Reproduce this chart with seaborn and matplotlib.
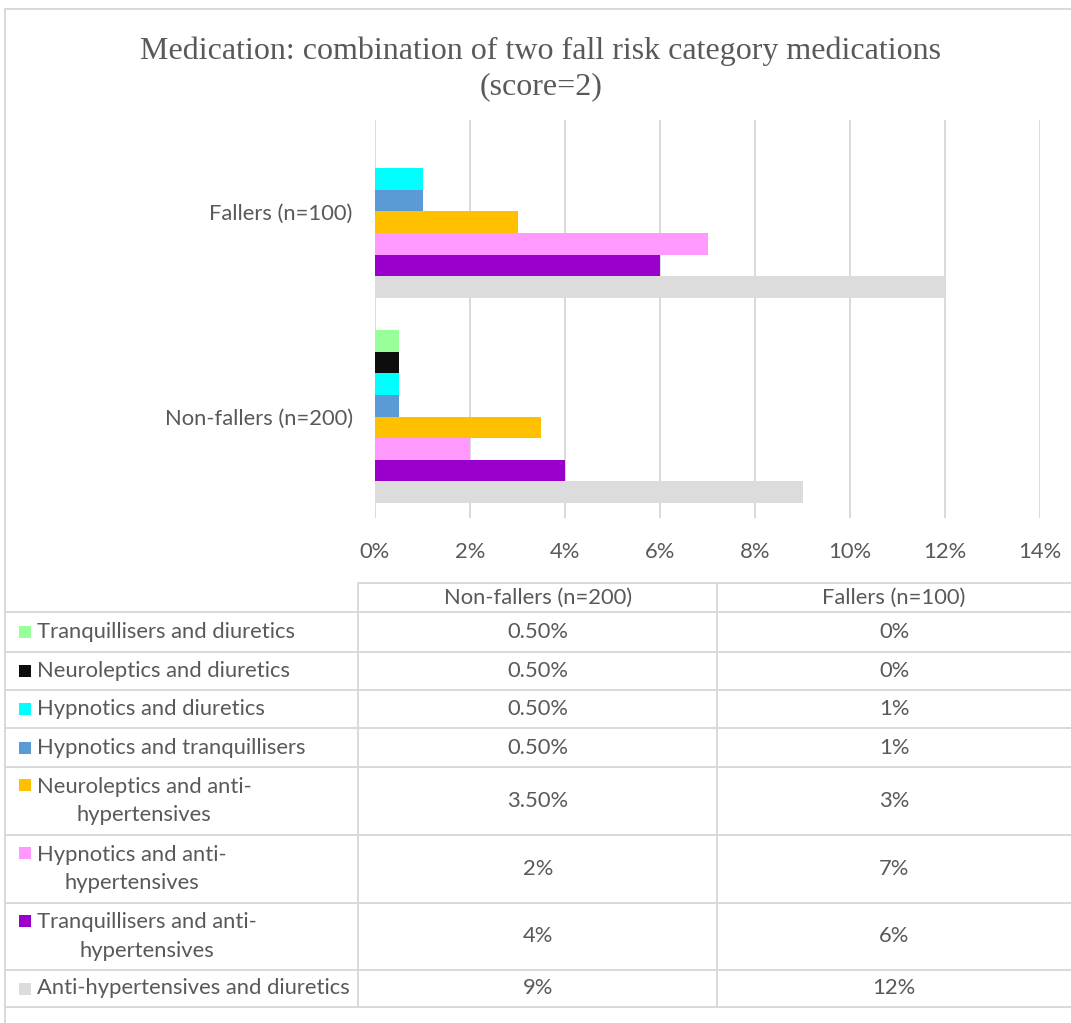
import matplotlib
matplotlib.use("Agg")
import matplotlib.pyplot as plt
from matplotlib.lines import Line2D
from matplotlib.patches import Rectangle
import seaborn as sns
import pandas as pd

# ---- data ----
groups = ["Fallers (n=100)", "Non-fallers (n=200)"]
series = [
    "Tranquillisers and diuretics",
    "Neuroleptics and diuretics",
    "Hypnotics and diuretics",
    "Hypnotics and tranquillisers",
    "Neuroleptics and anti-\nhypertensives",
    "Hypnotics and anti-\nhypertensives",
    "Tranquillisers and anti-\nhypertensives",
    "Anti-hypertensives and diuretics",
]
nonfallers = [0.5, 0.5, 0.5, 0.5, 3.5, 2, 4, 9]
fallers = [0, 0, 1, 1, 3, 7, 6, 12]
colors = ["#99FF99", "#0D0D0D", "#00FFFF", "#5B9BD5",
          "#FFC000", "#FF99FF", "#9900CC", "#DCDCDC"]
xticks = [0, 2, 4, 6, 8, 10, 12, 14]
title = "Medication: combination of two fall risk category medications\n(score=2)"
table_header = ["Non-fallers (n=200)", "Fallers (n=100)"]

rows = []
for s, nf, f in zip(series, nonfallers, fallers):
    rows.append({"group": groups[0], "series": s, "value": f})
    rows.append({"group": groups[1], "series": s, "value": nf})
df = pd.DataFrame(rows)

W, H = 1071, 1023
sns.set_theme(style="white")
plt.rcParams["font.family"] = ["Lato", "DejaVu Sans"]
TXT = "#595959"
GRID = "#D9D9D9"
FS = 15.8

fig = plt.figure(figsize=(W / 100, H / 100), dpi=100)
fig.patch.set_facecolor("white")

def fx(x):
    return x / W

def fy(y):
    return 1 - y / H

ax = fig.add_axes([fx(375), fy(518), fx(1040) - fx(375), fy(120) - fy(518)])
sns.barplot(data=df, x="value", y="group", hue="series", order=groups,
            hue_order=series, palette=colors, orient="h", width=0.843,
            saturation=1, errorbar=None, legend=False, linewidth=0, ax=ax)
ax.set_xlim(0, 14)
ax.set_ylim(1.495, -0.446)
ax.set_xticks(xticks)
ax.set_xticklabels([f"{t}%" for t in xticks])
ax.set_xlabel("")
ax.set_ylabel("")
ax.xaxis.grid(True, color=GRID, lw=1.4)
ax.yaxis.grid(False)
ax.set_axisbelow(True)
for sp in ax.spines.values():
    sp.set_visible(False)
ax.tick_params(axis="x", length=0, pad=17, labelsize=FS, colors=TXT)
ax.tick_params(axis="y", length=0, pad=16, labelsize=FS, colors=TXT)

# title
fig.text(fx(541), fy(69), title, ha="center", va="center", fontsize=23,
         family=["Liberation Serif"], color=TXT, linespacing=1.3)

def hline(y, x0, x1, lw=1.4):
    fig.add_artist(Line2D([fx(x0), fx(x1)], [fy(y), fy(y)], color=GRID, lw=lw))

def vline(x, y0, y1, lw=1.4):
    fig.add_artist(Line2D([fx(x), fx(x)], [fy(y0), fy(y1)], color=GRID, lw=lw))

# outer chart border
hline(9, 5, W)
vline(5, 9, H)

# data table
row_edges = [612, 652, 690, 728, 767, 835, 903, 970, 1007]
hline(583, 358, W)
for y in row_edges:
    hline(y, 5, W)
vline(358, 583, 1007)
vline(717, 583, 1007)

fig.text(fx(538), fy(598), table_header[0], ha="center", va="center",
         fontsize=FS, color=TXT)
fig.text(fx(894), fy(598), table_header[1], ha="center", va="center",
         fontsize=FS, color=TXT)

def fmt(v):
    return f"{v:.0f}%" if float(v).is_integer() else f"{v:.2f}%"

for i, (s, nf, f, c) in enumerate(zip(series, nonfallers, fallers, colors)):
    top, bot = row_edges[i], row_edges[i + 1]
    yc = (top + bot) / 2
    two = "\n" in s
    first_line_y = top + 18 if two else yc
    fig.add_artist(Rectangle((fx(19), fy(first_line_y + 6)), fx(12), 12 / H,
                             facecolor=c, edgecolor="none"))
    fig.text(fx(37), fy(yc), s, ha="left", va="center", fontsize=FS,
             color=TXT, multialignment="center", linespacing=1.55)
    fig.text(fx(538), fy(yc), fmt(nf), ha="center", va="center",
             fontsize=FS, color=TXT)
    fig.text(fx(894), fy(yc), fmt(f), ha="center", va="center",
             fontsize=FS, color=TXT)

fig.savefig("out.png", dpi=100, facecolor="white")
